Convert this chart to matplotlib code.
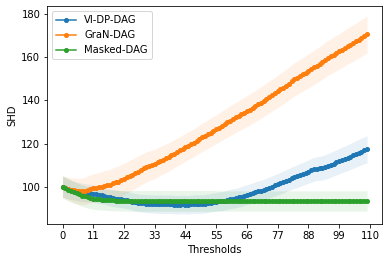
import numpy as np
import matplotlib
matplotlib.use('Agg')
import matplotlib.pyplot as plt

# thresholds 0..109
thresholds = list(range(110))
xtick_values = [0, 11, 22, 33, 44, 55, 66, 77, 88, 99, 110]

# VI-DP-DAG mean SHD and std
vidp_mean = [
    100.0, 99.5, 99.0, 98.6, 98.2, 97.9, 97.6, 97.4, 97.2, 97.1,
    97.0, 96.8, 96.5, 96.2, 96.0, 95.8, 95.3, 95.0, 94.7, 94.5,
    94.3, 94.2, 94.0, 93.8, 93.6, 93.1, 92.8, 92.6, 92.4, 92.3,
    92.2, 92.1, 92.0, 92.0, 91.9, 91.9, 91.8, 91.8, 91.9, 91.8,
    91.7, 91.6, 91.7, 91.8, 91.7, 91.6, 91.8, 91.9, 92.0, 91.9,
    92.0, 92.1, 92.3, 92.6, 92.8, 93.0, 93.2, 93.3, 93.6, 94.0,
    94.3, 94.5, 94.7, 95.1, 95.4, 95.9, 96.3, 96.7, 97.0, 97.5,
    97.9, 98.2, 98.6, 99.1, 99.6, 100.1, 100.6, 101.1, 101.7, 102.2,
    102.8, 103.3, 103.9, 104.4, 104.9, 105.4, 105.9, 106.5, 107.0, 107.6,
    108.0, 108.4, 108.5, 108.7, 109.2, 109.6, 110.1, 110.7, 111.3, 111.9,
    112.4, 112.9, 113.4, 114.0, 114.6, 115.2, 115.8, 116.3, 116.9, 117.4,
]
vidp_std = [
    4.8, 4.7, 4.6, 4.5, 4.4, 4.3, 4.3, 4.2, 4.2, 4.1,
    4.1, 4.0, 4.0, 4.0, 3.9, 3.9, 3.9, 3.9, 3.9, 3.9,
    3.9, 3.9, 4.0, 4.0, 4.0, 4.0, 4.1, 4.1, 4.1, 4.1,
    4.2, 4.2, 4.2, 4.2, 4.3, 4.3, 4.3, 4.3, 4.3, 4.3,
    4.3, 4.3, 4.3, 4.3, 4.3, 4.3, 4.3, 4.3, 4.3, 4.3,
    4.3, 4.3, 4.3, 4.3, 4.3, 4.3, 4.4, 4.4, 4.4, 4.4,
    4.5, 4.5, 4.5, 4.5, 4.6, 4.6, 4.6, 4.7, 4.7, 4.7,
    4.8, 4.8, 4.8, 4.9, 4.9, 4.9, 5.0, 5.0, 5.0, 5.1,
    5.1, 5.1, 5.2, 5.2, 5.3, 5.3, 5.3, 5.4, 5.4, 5.5,
    5.5, 5.5, 5.6, 5.6, 5.7, 5.7, 5.7, 5.8, 5.8, 5.9,
    5.9, 5.9, 6.0, 6.0, 6.1, 6.1, 6.1, 6.2, 6.2, 6.3,
]

# GraN-DAG
gran_mean = [
    100.0, 99.6, 99.1, 98.7, 98.4, 98.1, 97.9, 97.8, 98.1, 98.6,
    99.0, 99.4, 99.6, 99.8, 100.1, 100.5, 100.7, 101.0, 101.6, 102.0,
    102.4, 103.0, 103.6, 104.3, 105.0, 105.6, 106.4, 107.0, 107.9, 108.5,
    109.2, 109.7, 110.1, 110.5, 111.3, 112.0, 112.6, 113.2, 113.7, 114.5,
    115.3, 116.0, 116.8, 117.6, 118.3, 119.0, 119.6, 120.4, 121.2, 122.0,
    122.9, 123.6, 124.4, 125.1, 125.9, 126.6, 127.4, 128.2, 129.0, 129.8,
    130.6, 131.4, 132.1, 132.9, 133.6, 134.3, 135.1, 135.8, 136.6, 137.4,
    138.2, 139.0, 139.9, 140.8, 141.6, 142.5, 143.3, 144.2, 145.1, 146.0,
    146.9, 147.8, 148.9, 149.8, 150.6, 151.3, 152.1, 152.9, 153.7, 154.5,
    155.4, 156.2, 157.0, 157.8, 158.9, 159.7, 160.4, 161.2, 162.0, 162.8,
    163.5, 164.3, 165.2, 165.9, 166.6, 167.4, 168.2, 169.0, 169.8, 170.6,
]
gran_std = [
    5.0, 5.1, 5.3, 5.5, 5.7, 5.9, 6.0, 6.2, 6.3, 6.4,
    6.5, 6.6, 6.7, 6.8, 6.9, 7.0, 7.0, 7.1, 7.1, 7.2,
    7.2, 7.3, 7.3, 7.3, 7.3, 7.2, 7.2, 7.1, 7.1, 7.0,
    7.0, 6.9, 6.9, 6.8, 6.8, 6.7, 6.7, 6.6, 6.6, 6.5,
    6.5, 6.5, 6.4, 6.4, 6.4, 6.4, 6.4, 6.5, 6.5, 6.5,
    6.6, 6.6, 6.6, 6.7, 6.7, 6.7, 6.8, 6.8, 6.8, 6.9,
    6.9, 7.0, 7.0, 7.0, 7.1, 7.1, 7.1, 7.2, 7.2, 7.2,
    7.3, 7.3, 7.3, 7.4, 7.4, 7.4, 7.5, 7.5, 7.5, 7.6,
    7.6, 7.6, 7.7, 7.7, 7.7, 7.8, 7.8, 7.8, 7.9, 7.9,
    7.9, 8.0, 8.0, 8.0, 8.1, 8.1, 8.1, 8.2, 8.2, 8.2,
    8.3, 8.3, 8.3, 8.4, 8.4, 8.4, 8.5, 8.5, 8.5, 8.6,
]

# Masked-DAG
masked_mean = [
    100.0, 99.3, 98.6, 98.0, 97.4, 96.9, 96.4, 95.9, 95.5, 95.1,
    94.8, 94.5, 94.3, 94.1, 94.0, 93.9, 93.8, 93.7, 93.7, 93.6,
    93.6, 93.5, 93.5, 93.5, 93.4, 93.4, 93.4, 93.4, 93.4, 93.4,
    93.4, 93.4, 93.4, 93.4, 93.4, 93.4, 93.4, 93.4, 93.4, 93.4,
    93.4, 93.4, 93.4, 93.4, 93.4, 93.4, 93.4, 93.4, 93.4, 93.4,
    93.4, 93.4, 93.4, 93.4, 93.4, 93.4, 93.4, 93.4, 93.4, 93.4,
    93.4, 93.4, 93.4, 93.4, 93.4, 93.4, 93.4, 93.4, 93.4, 93.4,
    93.4, 93.4, 93.4, 93.4, 93.4, 93.4, 93.4, 93.4, 93.4, 93.4,
    93.4, 93.4, 93.4, 93.4, 93.4, 93.4, 93.4, 93.4, 93.4, 93.4,
    93.4, 93.4, 93.4, 93.4, 93.4, 93.4, 93.4, 93.4, 93.4, 93.4,
    93.4, 93.4, 93.4, 93.4, 93.4, 93.4, 93.4, 93.4, 93.4, 93.4,
]
masked_std = [
    5.2, 5.2, 5.1, 5.1, 5.1, 5.0, 5.0, 5.0, 5.0, 4.9,
    4.9, 4.9, 4.9, 4.9, 4.8, 4.8, 4.8, 4.8, 4.8, 4.8,
    4.8, 4.8, 4.8, 4.8, 4.8, 4.8, 4.8, 4.8, 4.8, 4.8,
    4.8, 4.8, 4.8, 4.8, 4.8, 4.8, 4.8, 4.8, 4.8, 4.8,
    4.8, 4.8, 4.8, 4.8, 4.8, 4.8, 4.8, 4.8, 4.8, 4.8,
    4.8, 4.8, 4.8, 4.8, 4.8, 4.8, 4.7, 4.7, 4.7, 4.7,
    4.7, 4.7, 4.7, 4.7, 4.7, 4.7, 4.7, 4.7, 4.7, 4.7,
    4.7, 4.7, 4.7, 4.7, 4.7, 4.7, 4.7, 4.7, 4.7, 4.7,
    4.7, 4.7, 4.7, 4.7, 4.7, 4.7, 4.7, 4.7, 4.7, 4.7,
    4.7, 4.7, 4.7, 4.7, 4.7, 4.7, 4.7, 4.7, 4.7, 4.7,
    4.7, 4.7, 4.7, 4.7, 4.7, 4.7, 4.7, 4.7, 4.7, 4.7,
]

series = [
    ('VI-DP-DAG', vidp_mean, vidp_std, '#1f77b4'),
    ('GraN-DAG', gran_mean, gran_std, '#ff7f0e'),
    ('Masked-DAG', masked_mean, masked_std, '#2ca02c'),
]

fig = plt.figure(figsize=(389 / 72, 262 / 72), dpi=72)
ax = fig.add_axes([0.1216, 0.145, 0.8612, 0.832])

x = np.array(thresholds)
for label, mean, std, color in series:
    mean = np.array(mean)
    std = np.array(std)
    ax.plot(x, mean, marker='o', markersize=4, color=color, label=label)
    ax.fill_between(x, mean - std, mean + std, color=color, alpha=0.1, linewidth=0)

ax.set_xticks(xtick_values)
ax.set_xlabel('Thresholds')
ax.set_ylabel('SHD')
ax.legend(loc='upper left')

fig.savefig('out.png', dpi=72)
